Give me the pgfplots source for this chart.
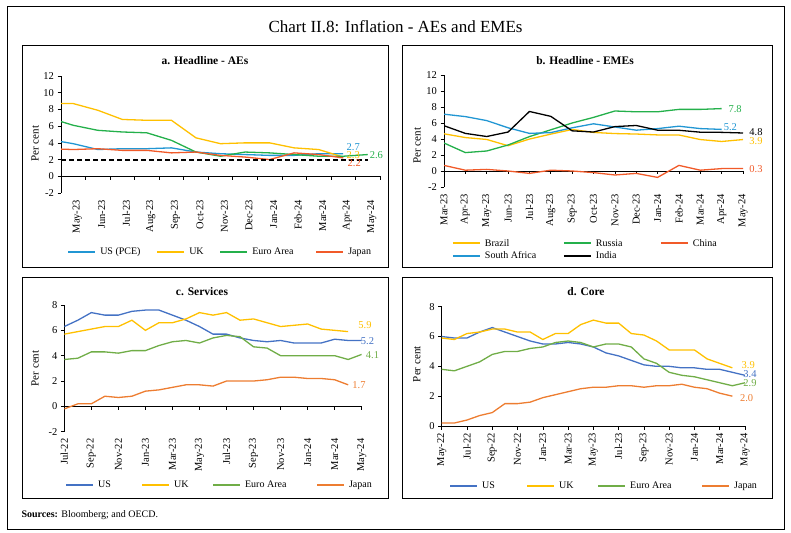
\documentclass[border=0pt]{standalone}
\usepackage{fontspec}
\setmainfont{Liberation Serif}
\usepackage{pgfplots}
\pgfplotsset{compat=1.18}

\definecolor{ablue}{HTML}{2196D3}
\definecolor{ayellow}{HTML}{FFC000}
\definecolor{agreen}{HTML}{24B04B}
\definecolor{ared}{HTML}{F15A29}
\definecolor{cblue}{HTML}{4472C4}
\definecolor{cgreen}{HTML}{70AD47}
\definecolor{corange}{HTML}{ED7D31}

\tikzset{lbl/.style={font=\fontsize{10.5}{12}\selectfont, inner sep=0pt}}

\pgfplotsset{
  panel/.style={
    scale only axis, clip mode=individual,
    axis y line*=left, axis x line*=bottom,
    axis line style={line width=0.6pt, black},
    tick align=outside, major tick length=3.5pt,
    tick style={line width=0.6pt, black},
    tick label style={font=\fontsize{10.5}{12}\selectfont},
    xticklabel style={rotate=90, anchor=east},
    /pgf/number format/assume math mode=true,
    ylabel={Per cent},
    ylabel style={font=\fontsize{11}{13}\selectfont},
    legend cell align=left,
    legend columns=4,
    legend style={draw=none, fill=none, inner sep=0pt, column sep=4pt, row sep=4pt,
      nodes={inner sep=0pt, font=\fontsize{10}{12}\selectfont}},
    legend image code/.code={\draw[##1, line width=2pt] (0pt,0pt) -- (27pt,0pt);},
    every axis plot/.append style={line width=1.3pt},
  },
  zeroaxis/.style={x axis line style={draw=none}, xtick style={draw=none}},
}

\begin{document}
\begin{tikzpicture}
\path[use as bounding box] (0,0) rectangle (791pt,532pt);
\draw[line width=0.8pt] (7pt,3pt) rectangle (784pt,526pt);
\draw[line width=0.7pt] (22pt,265pt) rectangle (388pt,487pt);
\draw[line width=0.7pt] (402pt,265pt) rectangle (772pt,487pt);
\draw[line width=0.7pt] (22pt,34pt) rectangle (388pt,255pt);
\draw[line width=0.7pt] (402pt,34pt) rectangle (772pt,255pt);

\node[font=\fontsize{17}{20}\selectfont] at (395.5pt,505pt) {Chart II.8: Inflation - AEs and EMEs};
\node[font=\fontsize{11.5}{14}\selectfont\bfseries] at (205pt,471pt) {a. Headline - AEs};
\node[font=\fontsize{11.5}{14}\selectfont\bfseries] at (585pt,471pt) {b. Headline - EMEs};
\node[font=\fontsize{11.5}{14}\selectfont\bfseries] at (202pt,240pt) {c. Services};
\node[font=\fontsize{11.5}{14}\selectfont\bfseries] at (586pt,240pt) {d. Core};
\node[anchor=west, font=\fontsize{10}{12}\selectfont] at (18pt,17pt) {\textbf{Sources:} Bloomberg; and OECD.};

% a. Headline - AEs
\begin{axis}[panel, zeroaxis,
  at={(61pt,339pt)}, anchor=south west, width=319pt, height=117pt,
  xmin=-0.5, xmax=12.5, ymin=-2, ymax=12, ytick={-2,0,...,12},
  xtick={0,...,12},
  xticklabels={May-23,Jun-23,Jul-23,Aug-23,Sep-23,Oct-23,Nov-23,Dec-23,Jan-24,Feb-24,Mar-24,Apr-24,May-24},
  xticklabel style={yshift=-4pt},
  ylabel style={at={(axis description cs:-0.081,0.421)}, anchor=center},
  legend style={at={(axis description cs:0.019,-0.504)}, anchor=west},
]
\draw[line width=0.6pt] (axis cs:-0.5,0) -- (axis cs:12.5,0);
\pgfplotsinvokeforeach{-0.5,0.5,1.5,2.5,3.5,4.5,5.5,6.5,7.5,8.5,9.5,10.5,11.5,12.5}{
  \draw[line width=0.6pt] (axis cs:#1,0) -- ++(0pt,-3.5pt);}
\addplot[ablue] coordinates {(-1,4.4) (0,3.9) (1,3.2) (2,3.3) (3,3.3) (4,3.4) (5,2.9) (6,2.7) (7,2.6) (8,2.5) (9,2.5) (10,2.7) (11,2.7)};
\addlegendentry{\makebox[52pt][l]{US (PCE)}}
\addplot[ayellow] coordinates {(-1,8.7) (0,8.7) (1,7.9) (2,6.8) (3,6.7) (4,6.7) (5,4.6) (6,3.9) (7,4.0) (8,4.0) (9,3.4) (10,3.2) (11,2.3)};
\addlegendentry{\makebox[26pt][l]{UK}}
\addplot[agreen] coordinates {(-1,7.0) (0,6.1) (1,5.5) (2,5.3) (3,5.2) (4,4.3) (5,2.9) (6,2.4) (7,2.9) (8,2.8) (9,2.6) (10,2.4) (11,2.4) (12,2.6)};
\addlegendentry{\makebox[59pt][l]{Euro Area}}
\addplot[ared] coordinates {(-1,3.3) (0,3.2) (1,3.3) (2,3.1) (3,3.1) (4,2.8) (5,2.9) (6,2.5) (7,2.3) (8,2.0) (9,2.8) (10,2.6) (11,2.2)};
\addlegendentry{Japan}
\addplot[black, line width=2pt, dash pattern=on 5pt off 3pt, forget plot] coordinates {(-0.5,2) (12,2)};
\node[lbl, text=ablue] at (axis cs:11.41,3.45) {2.7};
\node[lbl, text=ayellow] at (axis cs:11.41,2.52) {2.3};
\node[lbl, text=ared] at (axis cs:11.45,1.62) {2.2};
\node[lbl, text=agreen] at (axis cs:12.35,2.52) {2.6};
\end{axis}

% b. Headline - EMEs
\begin{axis}[panel, zeroaxis,
  at={(444pt,345pt)}, anchor=south west, width=299pt, height=112pt,
  xmin=0, xmax=14, ymin=-2, ymax=12, ytick={-2,0,...,12},
  xtick={0,...,14},
  xticklabels={Mar-23,Apr-23,May-23,Jun-23,Jul-23,Aug-23,Sep-23,Oct-23,Nov-23,Dec-23,Jan-24,Feb-24,Mar-24,Apr-24,May-24},
  ylabel style={at={(axis description cs:-0.090,0.368)}, anchor=center},
  legend columns=3,
  legend style={at={(axis description cs:0.026,-0.465)}, anchor=north west},
]
\draw[line width=0.6pt] (axis cs:0,0) -- (axis cs:14,0);
\pgfplotsinvokeforeach{0,...,14}{
  \draw[line width=0.6pt] (axis cs:#1,0) -- ++(0pt,-3.5pt);}
\addplot[ayellow] coordinates {(0,4.65) (1,4.18) (2,3.94) (3,3.16) (4,3.99) (5,4.61) (6,5.19) (7,4.82) (8,4.68) (9,4.62) (10,4.51) (11,4.50) (12,3.93) (13,3.69) (14,3.93)};
\addlegendentry{\makebox[74pt][l]{Brazil}}
\addplot[agreen] coordinates {(0,3.5) (1,2.3) (2,2.5) (3,3.25) (4,4.3) (5,5.15) (6,6.0) (7,6.7) (8,7.5) (9,7.4) (10,7.4) (11,7.7) (12,7.7) (13,7.8)};
\addlegendentry{\makebox[60pt][l]{Russia}}
\addplot[ared] coordinates {(0,0.7) (1,0.1) (2,0.2) (3,0.0) (4,-0.3) (5,0.1) (6,0.0) (7,-0.2) (8,-0.5) (9,-0.3) (10,-0.8) (11,0.7) (12,0.1) (13,0.3) (14,0.3)};
\addlegendentry{China}
\addplot[ablue] coordinates {(0,7.1) (1,6.8) (2,6.3) (3,5.4) (4,4.7) (5,4.8) (6,5.4) (7,5.9) (8,5.5) (9,5.1) (10,5.3) (11,5.6) (12,5.3) (13,5.2)};
\addlegendentry{South Africa}
\addplot[black] coordinates {(0,5.66) (1,4.70) (2,4.31) (3,4.87) (4,7.44) (5,6.83) (6,5.02) (7,4.87) (8,5.55) (9,5.69) (10,5.10) (11,5.09) (12,4.85) (13,4.83) (14,4.75)};
\addlegendentry{India}
\node[lbl, text=agreen] at (axis cs:13.63,7.75) {7.8};
\node[lbl, text=ablue] at (axis cs:13.41,5.5) {5.2};
\node[lbl, text=black] at (axis cs:14.61,4.85) {4.8};
\node[lbl, text=ayellow] at (axis cs:14.61,3.75) {3.9};
\node[lbl, text=ared] at (axis cs:14.61,0.25) {0.3};
\end{axis}

% c. Services
\begin{axis}[panel, zeroaxis,
  at={(64.3pt,100.3pt)}, anchor=south west, width=297.4pt, height=126.7pt,
  xmin=0, xmax=22, ymin=-2, ymax=8, ytick={-2,0,...,8},
  xtick={0,2,...,22},
  xticklabels={Jul-22,Sep-22,Nov-22,Jan-23,Mar-23,May-23,Jul-23,Sep-23,Nov-23,Jan-24,Mar-24,May-24},
  ylabel style={at={(axis description cs:-0.0985,0.50)}, anchor=center},
  legend style={at={(axis description cs:0.002,-0.421)}, anchor=west},
]
\draw[line width=0.6pt] (axis cs:0,0) -- (axis cs:22,0);
\pgfplotsinvokeforeach{0,2,...,22}{
  \draw[line width=0.6pt] (axis cs:#1,0) -- ++(0pt,-3.5pt);}
\addplot[cblue] coordinates {(0,6.3) (1,6.8) (2,7.4) (3,7.2) (4,7.2) (5,7.5) (6,7.6) (7,7.6) (8,7.2) (9,6.8) (10,6.3) (11,5.7) (12,5.7) (13,5.4) (14,5.2) (15,5.1) (16,5.2) (17,5.0) (18,5.0) (19,5.0) (20,5.3) (21,5.2) (22,5.2)};
\addlegendentry{\makebox[39pt][l]{US}}
\addplot[ayellow] coordinates {(0,5.7) (1,5.9) (2,6.1) (3,6.3) (4,6.3) (5,6.8) (6,6.0) (7,6.6) (8,6.6) (9,6.9) (10,7.4) (11,7.2) (12,7.4) (13,6.8) (14,6.9) (15,6.6) (16,6.3) (17,6.4) (18,6.5) (19,6.1) (20,6.0) (21,5.9)};
\addlegendentry{\makebox[34pt][l]{UK}}
\addplot[cgreen] coordinates {(0,3.7) (1,3.8) (2,4.3) (3,4.3) (4,4.2) (5,4.4) (6,4.4) (7,4.8) (8,5.1) (9,5.2) (10,5.0) (11,5.4) (12,5.6) (13,5.5) (14,4.7) (15,4.6) (16,4.0) (17,4.0) (18,4.0) (19,4.0) (20,4.0) (21,3.7) (22,4.1)};
\addlegendentry{\makebox[67pt][l]{Euro Area}}
\addplot[corange] coordinates {(0,-0.2) (1,0.2) (2,0.2) (3,0.8) (4,0.7) (5,0.8) (6,1.2) (7,1.3) (8,1.5) (9,1.7) (10,1.7) (11,1.6) (12,2.0) (13,2.0) (14,2.0) (15,2.1) (16,2.3) (17,2.3) (18,2.2) (19,2.2) (20,2.1) (21,1.7)};
\addlegendentry{Japan}
\node[lbl, text=ayellow] at (axis cs:22.24,6.45) {5.9};
\node[lbl, text=cblue] at (axis cs:22.43,5.13) {5.2};
\node[lbl, text=cgreen] at (axis cs:22.8,4.08) {4.1};
\node[lbl, text=corange] at (axis cs:21.8,1.71) {1.7};
\end{axis}

% d. Core
\begin{axis}[panel,
  at={(441.7pt,106pt)}, anchor=south west, width=303.3pt, height=119.3pt,
  xmin=0, xmax=24, ymin=0, ymax=8, ytick={0,2,...,8},
  xtick={0,2,...,24},
  xticklabels={May-22,Jul-22,Sep-22,Nov-22,Jan-23,Mar-23,May-23,Jul-23,Sep-23,Nov-23,Jan-24,Mar-24,May-24},
  ylabel style={at={(axis description cs:-0.082,0.518)}, anchor=center},
  legend style={at={(axis description cs:0.024,-0.500)}, anchor=west},
]
\addplot[cblue] coordinates {(0,6.0) (1,5.9) (2,5.9) (3,6.3) (4,6.6) (5,6.3) (6,6.0) (7,5.7) (8,5.5) (9,5.5) (10,5.6) (11,5.5) (12,5.3) (13,4.9) (14,4.7) (15,4.4) (16,4.1) (17,4.0) (18,4.0) (19,3.9) (20,3.9) (21,3.8) (22,3.8) (23,3.6) (24,3.4)};
\addlegendentry{\makebox[40pt][l]{US}}
\addplot[ayellow] coordinates {(0,5.9) (1,5.8) (2,6.2) (3,6.3) (4,6.5) (5,6.5) (6,6.3) (7,6.3) (8,5.8) (9,6.2) (10,6.2) (11,6.8) (12,7.1) (13,6.9) (14,6.9) (15,6.2) (16,6.1) (17,5.7) (18,5.1) (19,5.1) (20,5.1) (21,4.5) (22,4.2) (23,3.9)};
\addlegendentry{\makebox[34pt][l]{UK}}
\addplot[cgreen] coordinates {(0,3.8) (1,3.7) (2,4.0) (3,4.3) (4,4.8) (5,5.0) (6,5.0) (7,5.2) (8,5.3) (9,5.6) (10,5.7) (11,5.6) (12,5.3) (13,5.5) (14,5.5) (15,5.3) (16,4.5) (17,4.2) (18,3.6) (19,3.4) (20,3.3) (21,3.1) (22,2.9) (23,2.7) (24,2.9)};
\addlegendentry{\makebox[67pt][l]{Euro Area}}
\addplot[corange] coordinates {(0,0.2) (1,0.2) (2,0.4) (3,0.7) (4,0.9) (5,1.5) (6,1.5) (7,1.6) (8,1.9) (9,2.1) (10,2.3) (11,2.5) (12,2.6) (13,2.6) (14,2.7) (15,2.7) (16,2.6) (17,2.7) (18,2.7) (19,2.8) (20,2.6) (21,2.5) (22,2.2) (23,2.0)};
\addlegendentry{Japan}
\node[lbl, text=ayellow] at (axis cs:24.26,4.09) {3.9};
\node[lbl, text=cblue] at (axis cs:24.39,3.46) {3.4};
\node[lbl, text=cgreen] at (axis cs:24.39,2.9) {2.9};
\node[lbl, text=corange] at (axis cs:24.13,1.9) {2.0};
\end{axis}
\end{tikzpicture}
\end{document}
